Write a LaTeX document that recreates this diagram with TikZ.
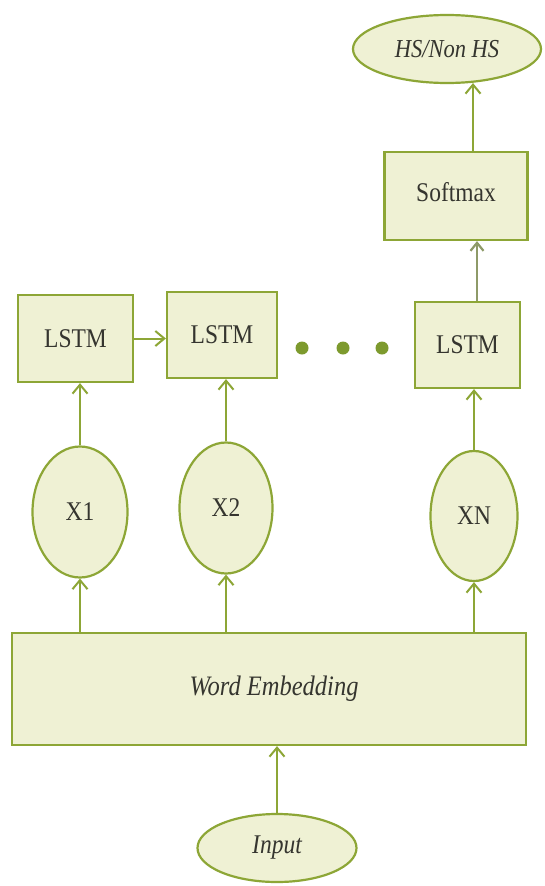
\documentclass[tikz,border=0pt]{standalone}
\usepackage{fontspec}
\setmainfont{Liberation Serif}
\usetikzlibrary{arrows.meta,shapes.geometric,calc}
\definecolor{edge}{HTML}{8DA636}
\definecolor{dotc}{HTML}{7D9A2E}
\definecolor{fillc}{HTML}{EFF1D4}
\definecolor{txt}{HTML}{35352F}
\definecolor{thinc}{HTML}{8E9A68}
\newcommand{\tall}[1]{\scalebox{1}[1.15]{#1}}
\begin{document}
\begin{tikzpicture}[x=1pt,y=-1pt,
  shape base/.style={draw=edge, fill=fillc, line width=2.2pt, inner sep=0pt,
    text=txt, font=\fontsize{23.5}{27}\selectfont},
  cell/.style={shape base, rectangle},
  oval/.style={shape base, ellipse},
  link/.style={draw=edge, line width=2pt,
    -{Straight Barb[length=9pt,width=15pt,line width=2pt]}},
  thinlink/.style={draw=thinc, line width=1.5pt,
    -{Straight Barb[length=8pt,width=13pt,line width=2.2pt]}}]
\useasboundingbox[fill=white] (0,0) rectangle (545,886);

% output and softmax layer
\node[oval, minimum width=188pt, minimum height=68pt,
      font=\fontsize{22.5}{26}\selectfont\itshape] (out) at (447,49) {\tall{HS/Non HS}};
\node[cell, minimum width=143pt, minimum height=88pt] (soft) at (456,196)
      {\raisebox{9pt}{\tall{Softmax}}};

% LSTM cells
\node[cell, minimum width=115pt, minimum height=87pt] (l1) at (75.5,338.5) {\tall{LSTM}};
\node[cell, minimum width=110pt, minimum height=86pt] (l2) at (222,335) {\tall{LSTM}};
\node[cell, minimum width=105pt, minimum height=86pt] (l3) at (467.5,345) {\tall{LSTM}};

% ellipsis between cells
\foreach \x in {302,343,382}
  \fill[dotc] (\x,348) circle (6.5pt);

% per-word inputs
\node[oval, minimum width=95pt, minimum height=131pt] (x1) at (80,512) {\tall{X1}};
\node[oval, minimum width=93pt, minimum height=131pt] (x2) at (226,508) {\tall{X2}};
\node[oval, minimum width=87pt, minimum height=130pt] (xn) at (474,516) {\tall{XN}};

% embedding layer and input
\node[cell, minimum width=514pt, minimum height=112pt] (emb) at (269,689)
      {\hspace{10pt}\raisebox{-4pt}{\fontsize{24.5}{28}\selectfont\itshape\tall{Word Embedding}}};
\node[oval, minimum width=159pt, minimum height=68pt, font=\fontsize{23.5}{27}\selectfont\itshape]
      (inp) at (277,848) {\tall{Input}};

% connectors
\draw[link] (inp.north) -- (inp.north |- emb.south);
\draw[link] (emb.north -| x1.south) -- (x1.south);
\draw[link] (emb.north -| x2.south) -- (x2.south);
\draw[link] (emb.north -| xn.south) -- (xn.south);
\draw[link] (x1.north) -- (x1.north |- l1.south);
\draw[link] (x2.north) -- (x2.north |- l2.south);
\draw[link] (xn.north) -- (xn.north |- l3.south);
\draw[link] (l1.east) -- (l1.east -| l2.west);
\coordinate (up1) at ($(l3.north)+(9.5,0)$);
\draw[thinlink] (up1) -- (up1 |- soft.south);
\coordinate (up2) at ($(soft.north)+(17,0)$);
\draw[link] (up2) -- ($(up2 |- out.south)+(0,-1)$);
\end{tikzpicture}
\end{document}
